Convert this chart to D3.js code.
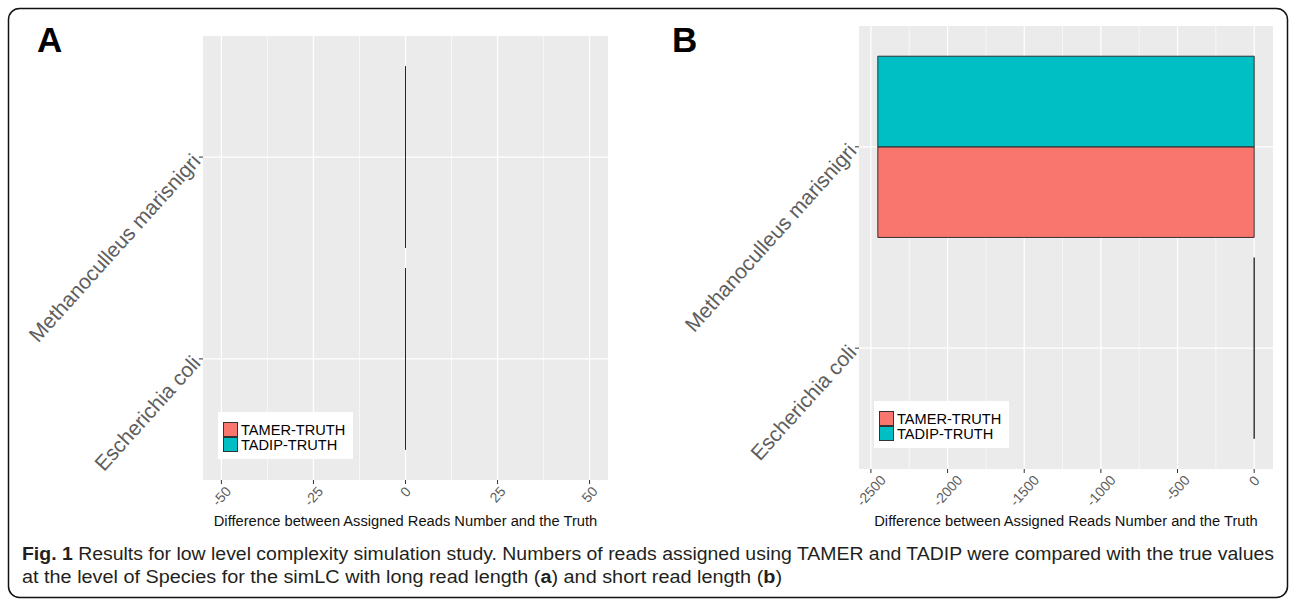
<!DOCTYPE html>
<html>
<head>
<meta charset="utf-8">
<script src="https://cdn.jsdelivr.net/npm/d3@7"></script>
<style>
body { margin: 0; background: #fff; }
svg text { font-family: "Liberation Sans", Arial, Helvetica, sans-serif; }
</style>
</head>
<body>
<svg id="fig" width="1292" height="603"></svg>
<script>
const species = ["Methanoculleus marisnigri", "Escherichia coli"];
const methods = ["TAMER-TRUTH", "TADIP-TRUTH"];
const colors = ["#F8766D", "#00BFC4"];

// panel A, long read length: every difference is zero
const tamerA = [0, 0];
const tadipA = [0, 0];
const ticksA = [-50, -25, 0, 25, 50];
const domainA = [-55, 55];

// panel B, short read length
const tamerB = [-2455, 0];
const tadipB = [-2455, 0];
const ticksB = [-2500, -2000, -1500, -1000, -500, 0];

const xTitle = "Difference between Assigned Reads Number and the Truth";

let svg = d3.select("#fig");

// outer frame
svg.append("rect")
    .attr("x", 8.5).attr("y", 8.5)
    .attr("width", 1279).attr("height", 589)
    .attr("rx", 11)
    .attr("fill", "none")
    .attr("stroke", "#111")
    .attr("stroke-width", 1.5);

function drawPanel(opt) {
    let g = svg.append("g");

    let x = d3.scaleLinear().domain(opt.domain).range([opt.left, opt.right]);
    let y = d3.scalePoint().domain(species).range([opt.top, opt.bottom]).padding(0.6);
    let step = y.step();
    // coord_flip + dodge: first group ends up at the bottom
    let sub = d3.scaleBand()
        .domain(methods.slice().reverse())
        .range([-0.45 * step, 0.45 * step]);
    let color = d3.scaleOrdinal().domain(methods).range(colors);

    g.append("rect")
        .attr("x", opt.left).attr("y", opt.top)
        .attr("width", opt.right - opt.left).attr("height", opt.bottom - opt.top)
        .attr("fill", "#EBEBEB");

    // minor grid
    let d = opt.ticks[1] - opt.ticks[0];
    let minor = [];
    for (let v = opt.ticks[0] - d / 2; v <= opt.domain[1]; v += d) {
        if (v >= opt.domain[0]) minor.push(v);
    }
    g.selectAll(".minor").data(minor).enter().append("line")
        .attr("x1", v => x(v)).attr("x2", v => x(v))
        .attr("y1", opt.top).attr("y2", opt.bottom)
        .attr("stroke", "#fff").attr("stroke-width", 0.6);

    // major grid
    g.selectAll(".major").data(opt.ticks).enter().append("line")
        .attr("x1", v => x(v)).attr("x2", v => x(v))
        .attr("y1", opt.top).attr("y2", opt.bottom)
        .attr("stroke", "#fff").attr("stroke-width", 1.2);
    g.selectAll(".hgrid").data(species).enter().append("line")
        .attr("x1", opt.left).attr("x2", opt.right)
        .attr("y1", s => y(s)).attr("y2", s => y(s))
        .attr("stroke", "#fff").attr("stroke-width", 1.2);

    // bars (drawn as paths so zero-width bars still show their outline)
    let rows = [];
    species.forEach((s, i) => {
        rows.push({ s: s, m: methods[0], v: opt.tamer[i] });
        rows.push({ s: s, m: methods[1], v: opt.tadip[i] });
    });
    g.selectAll(".bar").data(rows).enter().append("path")
        .attr("d", function(r) {
            let x0 = x(Math.min(0, r.v)), x1 = x(Math.max(0, r.v));
            let y0 = y(r.s) + sub(r.m), y1 = y0 + sub.bandwidth();
            return `M${x0},${y0}H${x1}V${y1}H${x0}Z`;
        })
        .attr("fill", r => color(r.m))
        .attr("stroke", "#222")
        .attr("stroke-width", 0.9);

    // x ticks + rotated labels
    g.selectAll(".xtick").data(opt.ticks).enter().append("line")
        .attr("x1", v => x(v)).attr("x2", v => x(v))
        .attr("y1", opt.bottom).attr("y2", opt.bottom + 4)
        .attr("stroke", "#333");
    let xl = g.selectAll(".xlab").data(opt.ticks).enter().append("text")
        .attr("text-anchor", "middle")
        .attr("dominant-baseline", "central")
        .style("font-size", "14px")
        .attr("fill", "#5e5e5e")
        .text(v => v);
    xl.attr("transform", function(v) {
        let w = this.getComputedTextLength();
        let h = 11;
        let half = (w + h) * 0.7071 / 2;
        return `translate(${x(v)}, ${opt.bottom + 5 + half})rotate(-48)`;
    });

    // y ticks + rotated species labels
    g.selectAll(".ytick").data(species).enter().append("line")
        .attr("x1", opt.left - 4).attr("x2", opt.left)
        .attr("y1", s => y(s)).attr("y2", s => y(s))
        .attr("stroke", "#333");
    g.selectAll(".ylab").data(species).enter().append("text")
        .attr("transform", s => `translate(${opt.left - 7}, ${y(s)})rotate(-48)`)
        .attr("text-anchor", "end")
        .attr("dominant-baseline", "central")
        .style("font-size", "21px")
        .attr("fill", "#5e5e5e")
        .text(s => s);

    // axis title
    g.append("text")
        .attr("x", (opt.left + opt.right) / 2)
        .attr("y", opt.titleY)
        .attr("text-anchor", "middle")
        .style("font-size", "14.7px")
        .attr("fill", "#111")
        .text(xTitle);

    // legend inside the panel, bottom-left
    let lx = opt.left + 15, ly = opt.bottom - 21 - 47;
    let leg = g.append("g").attr("transform", `translate(${lx}, ${ly})`);
    leg.append("rect").attr("width", 135).attr("height", 47).attr("fill", "#fff");
    methods.forEach((m, i) => {
        leg.append("rect")
            .attr("x", 5.5).attr("y", 10.5 + i * 15)
            .attr("width", 14).attr("height", 14)
            .attr("fill", color(m))
            .attr("stroke", "#333").attr("stroke-width", 1);
        leg.append("text")
            .attr("x", 23).attr("y", 17.5 + i * 15)
            .attr("dominant-baseline", "central")
            .style("font-size", "14.6px")
            .attr("fill", "#000")
            .text(m);
    });

    // panel letter
    svg.append("text")
        .attr("x", opt.letterX).attr("y", 52)
        .style("font-size", "35px")
        .style("font-weight", "bold")
        .attr("fill", "#000")
        .text(opt.letter);
}

drawPanel({
    letter: "A", letterX: 37,
    left: 203, right: 608, top: 36, bottom: 480,
    domain: domainA, ticks: ticksA,
    tamer: tamerA, tadip: tadipA,
    titleY: 526
});

let allB = tamerB.concat(tadipB);
let extB = d3.extent(allB);
let padB = (extB[1] - extB[0]) * 0.05;

drawPanel({
    letter: "B", letterX: 672,
    left: 859, right: 1273, top: 26, bottom: 469,
    domain: [extB[0] - padB, extB[1] + padB], ticks: ticksB,
    tamer: tamerB, tadip: tadipB,
    titleY: 526
});

// caption
let cap = svg.append("g")
    .style("font-family", "'Open Sans', 'Noto Sans', sans-serif")
    .attr("fill", "#231F20");
let l1 = cap.append("text")
    .attr("x", 22).attr("y", 560)
    .style("font-size", "17.5px")
    .attr("textLength", 1252).attr("lengthAdjust", "spacingAndGlyphs");
l1.append("tspan").style("font-weight", "bold").text("Fig. 1");
l1.append("tspan").text(" Results for low level complexity simulation study. Numbers of reads assigned using TAMER and TADIP were compared with the true values");
let l2 = cap.append("text")
    .attr("x", 22).attr("y", 583)
    .style("font-size", "17.5px")
    .attr("textLength", 760).attr("lengthAdjust", "spacingAndGlyphs");
l2.append("tspan").text("at the level of Species for the simLC with long read length (");
l2.append("tspan").style("font-weight", "bold").text("a");
l2.append("tspan").text(") and short read length (");
l2.append("tspan").style("font-weight", "bold").text("b");
l2.append("tspan").text(")");
</script>
</body>
</html>
